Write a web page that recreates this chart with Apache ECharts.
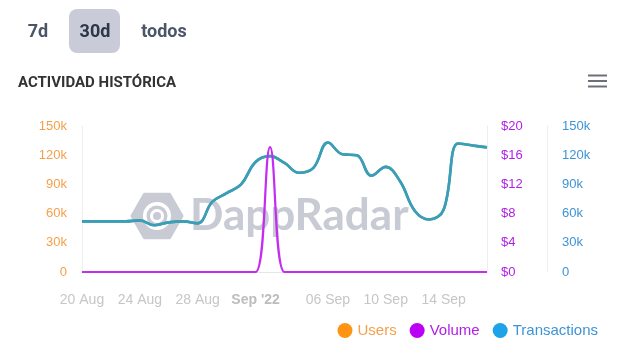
<!DOCTYPE html>
<html>
<head>
<meta charset="utf-8">
<script src="https://cdn.jsdelivr.net/npm/echarts@6/dist/echarts.min.js"></script>
<style>
html,body{margin:0;padding:0;background:#fff;}
#chart{width:629px;height:360px;}
</style>
</head>
<body>
<div id="chart"></div>
<script>
// ---- data ----
const dates = ['2022-08-20','2022-08-21','2022-08-22','2022-08-23','2022-08-24','2022-08-25','2022-08-26','2022-08-27','2022-08-28','2022-08-29','2022-08-30','2022-08-31','2022-09-01','2022-09-02','2022-09-03','2022-09-04','2022-09-05','2022-09-06','2022-09-07','2022-09-08','2022-09-09','2022-09-10','2022-09-11','2022-09-12','2022-09-13','2022-09-14','2022-09-15','2022-09-16','2022-09-17'];
const transactions = [52000,52000,52000,52000,53000,48000,51000,52000,50000,72000,81000,90000,113000,119000,112000,102000,107000,133000,121000,120000,99000,108000,93000,63000,54000,64000,132000,130000,128000];
const users = [52000,52000,52000,52000,53000,48000,51000,52000,50000,72000,81000,90000,113000,119000,112000,102000,107000,133000,121000,120000,99000,108000,93000,63000,54000,64000,132000,130000,128000];
const volume = [0,0,0,0,0,0,0,0,0,0,0,0,0,17.1,0,0,0,0,0,0,0,0,0,0,0,0,0,0,0];
const tickDates = ['2022-08-20','2022-08-24','2022-08-28','2022-09-01','2022-09-06','2022-09-10','2022-09-14'];
const tickLabels = ['20 Aug','24 Aug','28 Aug',"Sep '22",'06 Sep','10 Sep','14 Sep'];
const usersTicks = ['0','30k','60k','90k','120k','150k'];
const volumeTicks = ['$0','$4','$8','$12','$16','$20'];
const txTicks = ['0','30k','60k','90k','120k','150k'];

const chart = echarts.init(document.getElementById('chart'));
const axisFont = 'Liberation Sans, Arial, sans-serif';
const lineFaint = {show:true, lineStyle:{color:'#eeeeee', width:1}};

function hexPoints(cx, cy, r){
  const pts=[];
  for(let i=0;i<6;i++){const a=Math.PI/3*i; pts.push([cx+r*Math.cos(a), cy+r*Math.sin(a)]);}
  return pts;
}

const option = {
  animation:false,
  grid:{left:82, right:142, top:126, bottom:88},
  graphic:[
    {type:'text', x:38, y:32, style:{text:'7d', font:'bold 18px Roboto', fill:'#4a5568', align:'center', verticalAlign:'middle'}},
    {type:'rect', shape:{x:69, y:9, width:51, height:44, r:8}, style:{fill:'#c9cbd9'}},
    {type:'text', x:95, y:32, style:{text:'30d', font:'bold 18px Roboto', fill:'#2d3748', align:'center', verticalAlign:'middle'}},
    {type:'text', x:164, y:32, style:{text:'todos', font:'bold 18px Roboto', fill:'#4a5568', align:'center', verticalAlign:'middle'}},
    {type:'text', x:18, y:83, style:{text:'ACTIVIDAD HISTÓRICA', font:'bold 15px Roboto', fill:'#333333', verticalAlign:'middle'}},
    {type:'rect', shape:{x:588, y:74.5, width:19, height:2}, style:{fill:'#6e7079'}},
    {type:'rect', shape:{x:588, y:80, width:19, height:2}, style:{fill:'#6e7079'}},
    {type:'rect', shape:{x:588, y:85.5, width:19, height:2}, style:{fill:'#6e7079'}},
    // watermark
    {type:'polygon', z:0, shape:{points:hexPoints(157,216,25)}, style:{fill:'#c8cad4', stroke:'#c8cad4', lineWidth:3, lineJoin:'round'}},
    {type:'circle', z:0, shape:{cx:157,cy:216,r:14}, style:{fill:'#ffffff'}},
    {type:'circle', z:0, shape:{cx:157,cy:216,r:10.5}, style:{fill:'#c8cad4'}},
    {type:'circle', z:0, shape:{cx:157,cy:216,r:7}, style:{fill:'#ffffff'}},
    {type:'circle', z:0, shape:{cx:157,cy:216,r:4}, style:{fill:'#c8cad4'}},
    {type:'text', z:0, x:190, y:216, style:{text:'DappRadar', font:'bold 44px Lato, Roboto, sans-serif', fill:'#c8cad4', verticalAlign:'middle'}}
  ],
  legend:{
    right:26, top:318, icon:'circle', itemWidth:15, itemHeight:15, itemGap:13,
    textStyle:{fontFamily:axisFont, fontSize:15},
    data:[
      {name:'Users', textStyle:{color:'#f5a04a'}},
      {name:'Volume', textStyle:{color:'#b11ee8'}},
      {name:'Transactions', textStyle:{color:'#3d94d6'}}
    ]
  },
  xAxis:{
    type:'category', data:dates, boundaryGap:false,
    axisLine:{show:true, lineStyle:{color:'#e6e6e6'}},
    axisTick:{show:false},
    splitLine:{show:false},
    axisLabel:{
      margin:21, fontFamily:axisFont, fontSize:14, color:'#c6c6c6',
      interval:function(i, v){return tickDates.indexOf(v) >= 0;},
      formatter:function(v){
        const k = tickDates.indexOf(v);
        if(k<0) return '';
        const t = tickLabels[k];
        return t.indexOf("'")>=0 ? '{b|'+t+'}' : t;
      },
      rich:{b:{fontWeight:'bold', fontFamily:axisFont, fontSize:14, color:'#bdbdbd'}}
    }
  },
  yAxis:[
    {type:'value', min:0, max:150000, interval:30000, position:'left',
     axisLine:lineFaint, axisTick:{show:false}, splitLine:{show:false},
     axisLabel:{margin:15, fontFamily:axisFont, fontSize:13, color:'#f5a04a', formatter:function(v){return usersTicks[Math.round(v/30000)];}}},
    {type:'value', min:0, max:20, interval:4, position:'right',
     axisLine:lineFaint, axisTick:{show:false}, splitLine:{show:false},
     axisLabel:{margin:14, fontFamily:axisFont, fontSize:13, color:'#b11ee8', formatter:function(v){return volumeTicks[Math.round(v/4)];}}},
    {type:'value', min:0, max:150000, interval:30000, position:'right', offset:60,
     axisLine:lineFaint, axisTick:{show:false}, splitLine:{show:false},
     axisLabel:{margin:15, fontFamily:axisFont, fontSize:13, color:'#3d94d6', formatter:function(v){return txTicks[Math.round(v/30000)];}}}
  ],
  series:[
    {name:'Users', type:'line', yAxisIndex:0, data:users, smooth:0.4, showSymbol:false, z:2,
     itemStyle:{color:'#ff9414'}, lineStyle:{color:'#3b9eb5', width:2.6}},
    {name:'Volume', type:'line', yAxisIndex:1, data:volume, smooth:0.4, showSymbol:false, z:4,
     itemStyle:{color:'#bb00f5'}, lineStyle:{color:'#c42cf2', width:2.2}},
    {name:'Transactions', type:'line', yAxisIndex:2, data:transactions, smooth:0.4, showSymbol:false, z:3,
     itemStyle:{color:'#1fa3e8'}, lineStyle:{color:'#3b9eb5', width:2.6}}
  ]
};
chart.setOption(option);
</script>
</body>
</html>
